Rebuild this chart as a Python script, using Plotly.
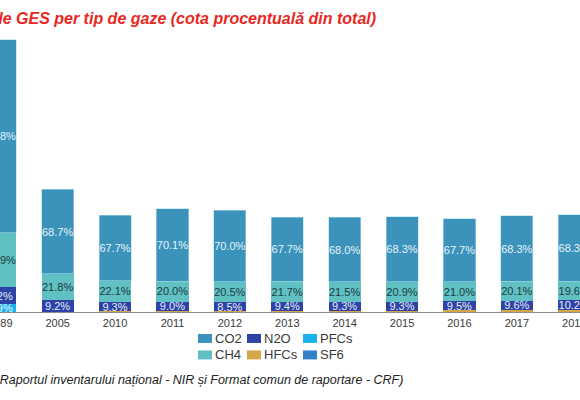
import plotly.graph_objects as go

# ---- data ----
years = ["1989", "2005", "2010", "2011", "2012", "2013", "2014", "2015", "2016", "2017", "2018"]
total_mt = [312, 140, 110.5, 118, 116, 108, 108, 109, 106.5, 110, 111]  # total GHG, Mt CO2e
co2_pct = [70.8, 68.7, 67.7, 70.1, 70.0, 67.7, 68.0, 68.3, 67.7, 68.3, 68.3]
ch4_pct = [19.9, 21.8, 22.1, 20.0, 20.5, 21.7, 21.5, 20.9, 21.0, 20.1, 19.6]
n2o_pct = [6.2, 9.2, 9.3, 9.0, 8.5, 9.4, 9.3, 9.3, 9.5, 9.6, 10.2]
pfc_pct = [2.9, 0.2, 0.2, 0.1, 0.1, 0.1, 0.1, 0.1, 0.1, 0.1, 0.1]
hfc_pct = [0.0, 0.1, 0.7, 0.8, 0.9, 1.1, 1.1, 1.4, 1.7, 1.9, 1.8]
sf6_pct = [0.0, 0.0, 0.02, 0.02, 0.02, 0.02, 0.02, 0.02, 0.02, 0.02, 0.02]

title_text = "Emisiile de GES per tip de gaze (cota procentuală din total)"
source_text = "(Sursa: Raportul inventarului național - NIR și Format comun de raportare - CRF)"

colors = {
    "CO2": "#3b93bc",
    "CH4": "#60c0c2",
    "N2O": "#2d43a7",
    "PFCs": "#1ab2ec",
    "HFCs": "#d6a74a",
    "SF6": "#3380c8",
}

W, H = 580, 400
ML, MR, MT, MB = 0, 0, 30, 87.5
plot_h = H - MT - MB


def seg(pcts):
    return [t * p / 100.0 for t, p in zip(total_mt, pcts)]


def labels(pcts, minv=1.0):
    return [f"{p:.1f}%" if p >= minv else "" for p in pcts]


fig = go.Figure()
series = [
    ("HFCs", hfc_pct, None, None),
    ("SF6", sf6_pct, None, None),
    ("PFCs", pfc_pct, labels(pfc_pct, 1.0), "#e8f6fc"),
    ("N2O", n2o_pct, labels(n2o_pct), "#e6ecf8"),
    ("CH4", ch4_pct, labels(ch4_pct), "#1c3c40"),
    ("CO2", co2_pct, labels(co2_pct), "#e6f3f8"),
]
for name, pcts, txt, tcol in series:
    kw = {}
    if txt is not None:
        kw = dict(
            text=txt,
            textposition="inside",
            insidetextanchor="middle",
            textangle=0,
            constraintext="none",
            insidetextfont=dict(family="Liberation Sans, Arial, sans-serif", size=11, color=tcol),
        )
    fig.add_trace(
        go.Bar(
            x=years,
            y=seg(pcts),
            name=name,
            marker=dict(color=colors[name],
                        line=dict(color="rgba(170,220,235,0.7)" if name == "CO2" else "rgba(0,0,0,0)", width=0.8)),
            showlegend=False,
            hoverinfo="skip",
            **kw,
        )
    )

y_top = total_mt[0] * plot_h / 273.5

fig.update_layout(
    width=W,
    height=H,
    margin=dict(l=ML, r=MR, t=MT, b=MB, pad=0, autoexpand=False),
    paper_bgcolor="white",
    plot_bgcolor="white",
    barmode="stack",
    bargap=0.44,
    font=dict(family="Liberation Sans, Arial, sans-serif", size=11, color="#3a3a3a"),
    xaxis=dict(
        type="category",
        range=[-0.005, 10.1],
        automargin=False,
        showgrid=False,
        showline=True,
        linecolor="#8c8c8c",
        linewidth=1,
        ticks="",
        tickfont=dict(size=11, color="#3a3a3a"),
        ticklabelstandoff=1,
        zeroline=False,
        fixedrange=True,
    ),
    yaxis=dict(
        range=[0, y_top],
        visible=False,
        automargin=False,
        showgrid=False,
        zeroline=False,
        fixedrange=True,
    ),
)


def py2paper(py):
    return (H - MB - py) / plot_h


def px2paper(px):
    return (px - ML) / (W - ML - MR)


# title (left part cut by the picture edge, as in the reference)
fig.add_annotation(
    text=title_text, xref="paper", yref="paper",
    x=px2paper(378), y=py2paper(18), xanchor="right", yanchor="middle",
    showarrow=False,
    font=dict(family="Liberation Sans, Arial, sans-serif", size=16, color="#e8281f", weight="bold", style="italic"),
)

# source note
fig.add_annotation(
    text=source_text, xref="paper", yref="paper",
    x=px2paper(405), y=py2paper(381), xanchor="right", yanchor="middle",
    showarrow=False,
    font=dict(family="Liberation Sans, Arial, sans-serif", size=12.5, color="#222222", style="italic"),
)

# manual legend: 2 rows x 3 columns
legend_items = [
    ("CO2", 198, 339), ("N2O", 247, 339), ("PFCs", 303, 339),
    ("CH4", 198, 355.5), ("HFCs", 247, 355.5), ("SF6", 303, 355.5),
]
for name, lx, ly in legend_items:
    fig.add_shape(
        type="rect", xref="paper", yref="paper",
        x0=px2paper(lx), x1=px2paper(lx + 14),
        y0=py2paper(ly + 4.5), y1=py2paper(ly - 4.5),
        fillcolor=colors[name], line=dict(width=0),
    )
    fig.add_annotation(
        text=name, xref="paper", yref="paper",
        x=px2paper(lx + 15), y=py2paper(ly), xanchor="left", yanchor="middle",
        showarrow=False,
        font=dict(family="Liberation Sans, Arial, sans-serif", size=13, color="#3a3a3a"),
    )

fig.write_html(
    "out.html",
    config={"displayModeBar": False},
    post_script="document.body.style.margin='0';document.body.style.overflow='hidden';",
)
